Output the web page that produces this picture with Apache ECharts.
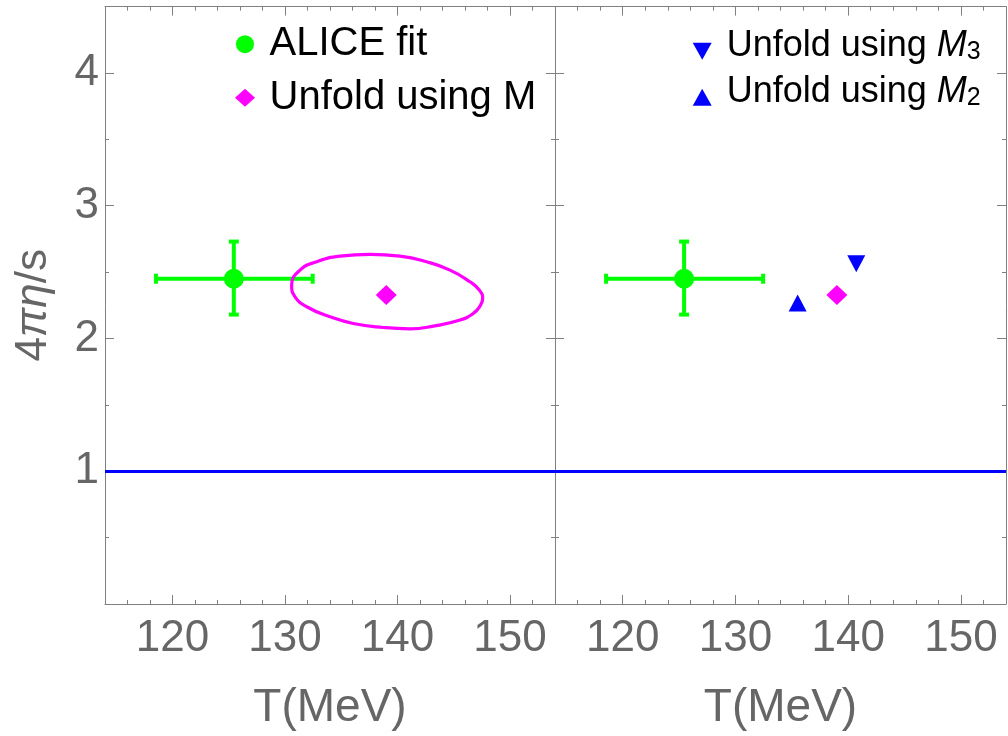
<!DOCTYPE html>
<html><head><meta charset="utf-8">
<script src="https://cdn.jsdelivr.net/npm/echarts@6/dist/echarts.min.js"></script>
<style>html,body{margin:0;padding:0;background:#fff}#c{width:1008px;height:736px}</style>
</head><body><div id="c"></div>
<script>
// ---- data ----
const xRange = [114, 154];
const yRange = [0, 4.5];
const xTickLabels = [120, 130, 140, 150];
const xMajorTicks = [120, 130, 140, 150];
const xMinorTicks = [116, 118, 122, 124, 126, 128, 132, 134, 136, 138, 142, 144, 146, 148, 152];
const yTickLabels = [1, 2, 3, 4];
const yMajorTicks = [1, 2, 3, 4];
const yMinorTicks = [0.5, 1.5, 2.5, 3.5];

const aliceT = [125.45];
const aliceEta = [2.45];
const aliceTLow = [118.53];
const aliceTHigh = [132.46];
const aliceEtaLow = [2.18];
const aliceEtaHigh = [2.73];

const unfoldMT = [139.0];
const unfoldMEta = [2.327];
const unfoldM3T = [140.72];
const unfoldM3Eta = [2.563];
const unfoldM2T = [135.52];
const unfoldM2Eta = [2.267];

// contour around the "Unfold using M" point
const contourT = [137.56, 140.22, 142.59, 144.67, 146.44, 147.27, 147.57, 147.33, 146.74, 145.56,
                  143.19, 141.11, 138.74, 136.07, 134.00, 131.93, 130.89, 130.59,
                  131.33, 132.81, 134.89, 137.56];
const contourEta = [2.633, 2.620, 2.578, 2.515, 2.427, 2.365, 2.302, 2.244, 2.189, 2.139,
                    2.093, 2.073, 2.083, 2.113, 2.164, 2.239, 2.314, 2.402,
                    2.515, 2.578, 2.620, 2.633];

const kssBound = 1;

// ---- styles ----
const FONT = 'Liberation Sans, Arial, sans-serif';
const GREY = '#666666';
const FRAME = '#808080';
const GREEN = '#00ff00', MAGENTA = '#ff00ff', BLUE = '#0000ff';

function zip(a, b) { return a.map((v, i) => [v, b[i]]); }

function xAxes(g) {
  const base = {gridIndex: g, type: 'value', min: xRange[0], max: xRange[1], splitLine: {show: false}};
  return [
    Object.assign({}, base, {
      position: 'bottom',
      axisLine: {show: true, onZero: false, lineStyle: {color: FRAME, width: 1}},
      axisTick: {show: true, inside: true, length: 9, customValues: xMajorTicks, lineStyle: {color: FRAME}},
      axisLabel: {show: true, customValues: xTickLabels, fontSize: 44, color: GREY, fontFamily: FONT, margin: 13},
      name: 'T(MeV)', nameLocation: 'middle', nameGap: 81,
      nameTextStyle: {fontSize: 46, color: GREY, fontFamily: FONT}
    }),
    Object.assign({}, base, {
      position: 'bottom',
      axisLine: {show: false, onZero: false},
      axisTick: {show: true, inside: true, length: 4, customValues: xMinorTicks, lineStyle: {color: FRAME}},
      axisLabel: {show: false}
    }),
    Object.assign({}, base, {
      position: 'top',
      axisLine: {show: true, onZero: false, lineStyle: {color: FRAME, width: 1}},
      axisTick: {show: true, inside: true, length: 9, customValues: xMajorTicks, lineStyle: {color: FRAME}},
      axisLabel: {show: false}
    }),
    Object.assign({}, base, {
      position: 'top',
      axisLine: {show: false, onZero: false},
      axisTick: {show: true, inside: true, length: 4, customValues: xMinorTicks, lineStyle: {color: FRAME}},
      axisLabel: {show: false}
    })
  ];
}

function yAxes(g, labels) {
  const base = {gridIndex: g, type: 'value', min: yRange[0], max: yRange[1], splitLine: {show: false}};
  const main = Object.assign({}, base, {
    position: 'left',
    axisLine: {show: true, onZero: false, lineStyle: {color: FRAME, width: 1}},
    axisTick: {show: true, inside: true, length: 9, customValues: yMajorTicks, lineStyle: {color: FRAME}},
    axisLabel: labels ? {show: true, customValues: yTickLabels, fontSize: 44, color: GREY, fontFamily: FONT, margin: 6}
                      : {show: false}
  });
  if (labels) {
    Object.assign(main, {
      name: '{a|4}{b|πη}{a|/s}', nameLocation: 'middle', nameGap: 49, nameRotate: 90,
      nameTextStyle: {
        color: GREY, fontFamily: FONT, fontSize: 44,
        rich: {
          a: {fontSize: 44, color: GREY, fontFamily: FONT},
          b: {fontSize: 44, color: GREY, fontFamily: FONT, fontStyle: 'italic'}
        }
      }
    });
  }
  return [
    main,
    Object.assign({}, base, {
      position: 'left',
      axisLine: {show: false, onZero: false},
      axisTick: {show: true, inside: true, length: 4, customValues: yMinorTicks, lineStyle: {color: FRAME}},
      axisLabel: {show: false}
    }),
    Object.assign({}, base, {
      position: 'right',
      axisLine: {show: true, onZero: false, lineStyle: {color: FRAME, width: 1}},
      axisTick: {show: true, inside: true, length: 9, customValues: yMajorTicks, lineStyle: {color: FRAME}},
      axisLabel: {show: false}
    }),
    Object.assign({}, base, {
      position: 'right',
      axisLine: {show: false, onZero: false},
      axisTick: {show: true, inside: true, length: 4, customValues: yMinorTicks, lineStyle: {color: FRAME}},
      axisLabel: {show: false}
    })
  ];
}

function renderErrorBar(params, api) {
  const x = api.value(0), y = api.value(1);
  const xl = api.value(2), xh = api.value(3), yl = api.value(4), yh = api.value(5);
  const pl = api.coord([xl, y]), ph = api.coord([xh, y]);
  const pb = api.coord([x, yl]), pt = api.coord([x, yh]);
  const cap = 5;
  const style = {stroke: GREEN, lineWidth: 4, fill: null};
  const seg = (x1, y1, x2, y2) => ({type: 'line', shape: {x1, y1, x2, y2}, style});
  return {type: 'group', children: [
    seg(pl[0], pl[1], ph[0], ph[1]),
    seg(pb[0], pb[1], pt[0], pt[1]),
    seg(pl[0], pl[1] - cap, pl[0], pl[1] + cap),
    seg(ph[0], ph[1] - cap, ph[0], ph[1] + cap),
    seg(pb[0] - cap, pb[1], pb[0] + cap, pb[1]),
    seg(pt[0] - cap, pt[1], pt[0] + cap, pt[1])
  ]};
}

const errData = aliceT.map((t, i) => [t, aliceEta[i], aliceTLow[i], aliceTHigh[i], aliceEtaLow[i], aliceEtaHigh[i]]);

function kssLine() {
  return {
    silent: true, symbol: ['none', 'none'], label: {show: false},
    lineStyle: {color: BLUE, width: 3, type: 'solid'},
    emphasis: {disabled: true},
    data: [{yAxis: kssBound}]
  };
}

function panelSeries(g, right) {
  const xi = g * 4, yi = g * 4;
  const s = [
    {
      name: 'ALICE fit', type: 'custom', xAxisIndex: xi, yAxisIndex: yi,
      renderItem: renderErrorBar, data: errData, itemStyle: {color: GREEN}, z: 3,
      encode: {x: [0, 2, 3], y: [1, 4, 5]}
    },
    {
      name: 'ALICE fit', type: 'scatter', xAxisIndex: xi, yAxisIndex: yi,
      data: zip(aliceT, aliceEta), symbol: 'circle', symbolSize: 20,
      itemStyle: {color: GREEN, opacity: 1}, z: 4,
      markLine: kssLine()
    }
  ];
  if (!right) {
    s.push({
      name: 'contour', type: 'line', xAxisIndex: xi, yAxisIndex: yi,
      data: zip(contourT, contourEta), smooth: 0.5, showSymbol: false, symbol: 'none',
      lineStyle: {color: MAGENTA, width: 3.2}, z: 5
    });
  } else {
    s.push({
      name: 'Unfold using M3', type: 'scatter', xAxisIndex: xi, yAxisIndex: yi,
      data: zip(unfoldM3T, unfoldM3Eta), symbol: 'triangle', symbolRotate: 180, symbolSize: [18, 17],
      itemStyle: {color: BLUE, opacity: 1}, z: 4
    });
    s.push({
      name: 'Unfold using M2', type: 'scatter', xAxisIndex: xi, yAxisIndex: yi,
      data: zip(unfoldM2T, unfoldM2Eta), symbol: 'triangle', symbolSize: [18, 17],
      itemStyle: {color: BLUE, opacity: 1}, z: 4
    });
  }
  s.push({
    name: 'Unfold using M', type: 'scatter', xAxisIndex: xi, yAxisIndex: yi,
    data: zip(unfoldMT, unfoldMEta), symbol: 'diamond', symbolSize: [21, 20],
    itemStyle: {color: MAGENTA, opacity: 1}, z: 4
  });
  return s;
}

const chart = echarts.init(document.getElementById('c'), null, {renderer: 'canvas'});
chart.setOption({
  animation: false,
  backgroundColor: '#ffffff',
  grid: [
    {left: 105, top: 6.6, width: 450, height: 597.4, containLabel: false},
    {left: 555, top: 6.6, width: 451, height: 597.4, containLabel: false}
  ],
  xAxis: [].concat(xAxes(0), xAxes(1)),
  yAxis: [].concat(yAxes(0, true), yAxes(1, false)),
  legend: [
    {
      orient: 'vertical', left: 230, top: 17.7, itemGap: 10.6, padding: 5,
      itemWidth: 20, itemHeight: 18, selectedMode: false,
      data: [{name: 'ALICE fit', icon: 'circle'}, {name: 'Unfold using M', icon: 'diamond'}],
      textStyle: {fontSize: 40, lineHeight: 40, color: '#000', fontFamily: FONT, padding: [0, 0, 3, 9.5]}
    },
    {
      orient: 'vertical', left: 687.7, top: 23.2, itemGap: 0, padding: 5,
      itemWidth: 19, itemHeight: 18, selectedMode: false,
      data: [
        {name: 'Unfold using M3', icon: 'path://M0,0L20,0L10,18Z'},
        {name: 'Unfold using M2', icon: 'path://M10,0L20,18L0,18Z'}
      ],
      formatter: function (name) {
        const sub = name.slice(-1);
        return '{t|Unfold using }{i|M}{s|' + sub + '}';
      },
      textStyle: {
        fontSize: 36, lineHeight: 36, color: '#000', fontFamily: FONT, padding: [0, 0, 10, 10],
        rich: {
          t: {fontSize: 36, lineHeight: 36, color: '#000', fontFamily: FONT},
          i: {fontSize: 36, lineHeight: 36, color: '#000', fontFamily: FONT, fontStyle: 'italic'},
          s: {fontSize: 25, lineHeight: 16, color: '#000', fontFamily: FONT, verticalAlign: 'bottom'}
        }
      }
    }
  ],
  series: [].concat(panelSeries(0, false), panelSeries(1, true))
});
</script>
</body></html>
